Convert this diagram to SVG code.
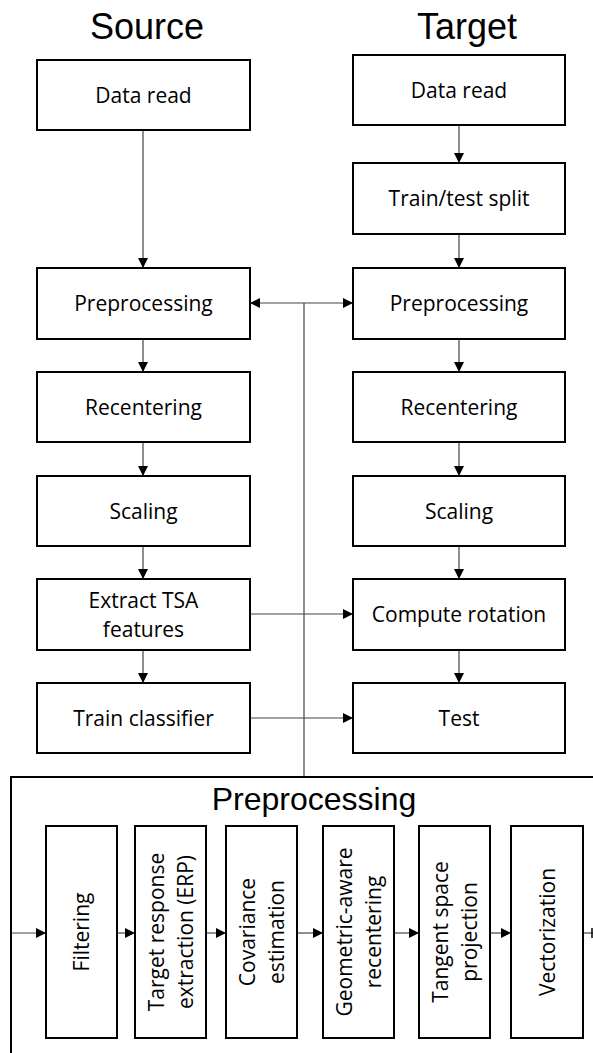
<svg xmlns="http://www.w3.org/2000/svg" width="593" height="1053" viewBox="0 0 593 1053">
<defs>
<marker id="ah" viewBox="0 0 10 10" refX="10" refY="5" markerWidth="10" markerHeight="10" markerUnits="userSpaceOnUse" orient="auto-start-reverse">
<path d="M0,0 L10,5 L0,10 Z" fill="#000"/>
</marker>
<style>
.box{fill:#fff;stroke:#000;stroke-width:2}
.lbl{font-family:"Open Sans","Noto Sans",sans-serif;font-size:21px;fill:#000;text-anchor:middle}
.ttl{font-family:"Liberation Sans",Arial,sans-serif;font-size:36px;fill:#000;text-anchor:middle}
.con{fill:none;stroke:#444;stroke-width:1.2}
.arr{marker-end:url(#ah)}
</style>
</defs>
<rect width="593" height="1053" fill="#fff"/>
<text class="ttl" x="147" y="39">Source</text>
<text class="ttl" x="467" y="39">Target</text>

<g id="connectors">
<line class="con arr" x1="143" y1="130" x2="143" y2="268"/>
<line class="con arr" x1="459" y1="125" x2="459" y2="163"/>
<line class="con arr" x1="459" y1="234" x2="459" y2="268"/>
<line class="con arr" x1="143" y1="339" x2="143" y2="372"/>
<line class="con arr" x1="459" y1="339" x2="459" y2="372"/>
<line class="con arr" x1="143" y1="442" x2="143" y2="476"/>
<line class="con arr" x1="459" y1="442" x2="459" y2="476"/>
<line class="con arr" x1="143" y1="546" x2="143" y2="579"/>
<line class="con arr" x1="459" y1="546" x2="459" y2="579"/>
<line class="con arr" x1="143" y1="650" x2="143" y2="683"/>
<line class="con arr" x1="459" y1="650" x2="459" y2="683"/>
<line class="con arr" x1="250" y1="614" x2="353" y2="614"/>
<line class="con arr" x1="250" y1="718" x2="353" y2="718"/>
<line class="con arr" x1="250" y1="303" x2="353" y2="303" marker-start="url(#ah)"/>
<line class="con" x1="304" y1="303" x2="304" y2="777"/>
<line class="con arr" x1="11" y1="933" x2="46" y2="933"/>
<line class="con arr" x1="117" y1="933" x2="135" y2="933"/>
<line class="con arr" x1="206" y1="933" x2="226" y2="933"/>
<line class="con arr" x1="297" y1="933" x2="323" y2="933"/>
<line class="con arr" x1="394" y1="933" x2="419" y2="933"/>
<line class="con arr" x1="490" y1="933" x2="511" y2="933"/>
<line class="con" x1="583" y1="933" x2="593" y2="933"/>
<line x1="592" y1="928" x2="592" y2="938" stroke="#000" stroke-width="1.5"/>
</g>

<g id="src-read"><rect class="box" x="37" y="60" width="213" height="70"/><text class="lbl" x="143.5" y="102.5">Data read</text></g>
<g id="tgt-read"><rect class="box" x="353" y="55" width="212" height="70"/><text class="lbl" x="459" y="97.5">Data read</text></g>
<g id="tgt-split"><rect class="box" x="353" y="163" width="212" height="71"/><text class="lbl" x="459" y="206">Train/test split</text></g>
<g id="src-pre"><rect class="box" x="37" y="268" width="213" height="71"/><text class="lbl" x="143.5" y="311">Preprocessing</text></g>
<g id="tgt-pre"><rect class="box" x="353" y="268" width="212" height="71"/><text class="lbl" x="459" y="311">Preprocessing</text></g>
<g id="src-rec"><rect class="box" x="37" y="372" width="213" height="70"/><text class="lbl" x="143.5" y="414.5">Recentering</text></g>
<g id="tgt-rec"><rect class="box" x="353" y="372" width="212" height="70"/><text class="lbl" x="459" y="414.5">Recentering</text></g>
<g id="src-scale"><rect class="box" x="37" y="476" width="213" height="70"/><text class="lbl" x="143.5" y="518.5">Scaling</text></g>
<g id="tgt-scale"><rect class="box" x="353" y="476" width="212" height="70"/><text class="lbl" x="459" y="518.5">Scaling</text></g>
<g id="src-tsa"><rect class="box" x="37" y="579" width="213" height="71"/><text class="lbl" x="143.5" y="608">Extract TSA</text><text class="lbl" x="143.5" y="637">features</text></g>
<g id="tgt-rot"><rect class="box" x="353" y="579" width="212" height="71"/><text class="lbl" x="459" y="622">Compute rotation</text></g>
<g id="src-train"><rect class="box" x="37" y="683" width="213" height="70"/><text class="lbl" x="143.5" y="725.5">Train classifier</text></g>
<g id="tgt-test"><rect class="box" x="353" y="683" width="212" height="70"/><text class="lbl" x="459" y="725.5">Test</text></g>

<g id="prep-detail">
<path d="M11,1053 V777 H593" fill="none" stroke="#000" stroke-width="2"/>
<text x="314" y="810" style="font-family:'Liberation Sans',Arial,sans-serif;font-size:32px;text-anchor:middle">Preprocessing</text>
</g>
<g id="p-filter"><rect class="box" x="46" y="826" width="71" height="212"/><text class="lbl" transform="translate(81.5,932) rotate(-90)" x="0" y="7.5">Filtering</text></g>
<g id="p-erp"><rect class="box" x="135" y="826" width="71" height="212"/><text class="lbl" transform="translate(170.5,932) rotate(-90)" x="0" y="-7">Target response</text><text class="lbl" transform="translate(170.5,932) rotate(-90)" x="0" y="22">extraction (ERP)</text></g>
<g id="p-cov"><rect class="box" x="226" y="826" width="71" height="212"/><text class="lbl" transform="translate(261.5,932) rotate(-90)" x="0" y="-7">Covariance</text><text class="lbl" transform="translate(261.5,932) rotate(-90)" x="0" y="22">estimation</text></g>
<g id="p-geo"><rect class="box" x="323" y="826" width="71" height="212"/><text class="lbl" transform="translate(358.5,932) rotate(-90)" x="0" y="-7">Geometric-aware</text><text class="lbl" transform="translate(358.5,932) rotate(-90)" x="0" y="22">recentering</text></g>
<g id="p-tan"><rect class="box" x="419" y="826" width="71" height="212"/><text class="lbl" transform="translate(454.5,932) rotate(-90)" x="0" y="-7">Tangent space</text><text class="lbl" transform="translate(454.5,932) rotate(-90)" x="0" y="22">projection</text></g>
<g id="p-vec"><rect class="box" x="511" y="826" width="72" height="212"/><text class="lbl" transform="translate(547,932) rotate(-90)" x="0" y="7.5">Vectorization</text></g>
</svg>
